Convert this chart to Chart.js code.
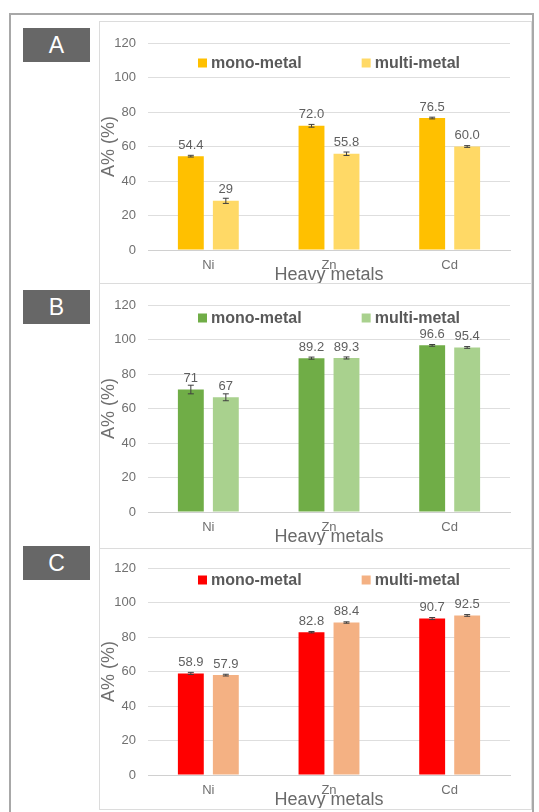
<!DOCTYPE html>
<html>
<head>
<meta charset="utf-8">
<script src="https://cdn.jsdelivr.net/npm/chart.js@4/dist/chart.umd.min.js"></script>
<style>
  html, body { margin: 0; padding: 0; background: #ffffff; width: 539px; height: 812px; overflow: hidden; }
  .frame { position: absolute; left: 9px; top: 13px; width: 525px; height: 820px; border: 2px solid #a8a8a8; box-sizing: border-box; }
  .box { position: absolute; left: 99px; width: 433px; border: 1px solid #dcdcdc; box-sizing: border-box; background: #fff; }
  .tag { position: absolute; left: 23px; width: 67px; height: 34px; background: #676767; color: #ffffff;
         font-family: "Liberation Sans", Arial, sans-serif; font-size: 23px; line-height: 34px; text-align: center; }
  canvas { position: absolute; }
</style>
</head>
<body>
<div class="frame"></div>
<div class="box" style="top:21px;height:263px;"></div>
<div class="box" style="top:283px;height:266px;"></div>
<div class="box" style="top:548px;height:262px;"></div>
<div class="tag" style="top:28px;">A</div>
<div class="tag" style="top:290px;">B</div>
<div class="tag" style="top:546px;">C</div>
<div style="position:absolute;left:97px;top:19px;width:434px;height:264px;"><canvas id="cA"></canvas></div>
<div style="position:absolute;left:97px;top:281px;width:434px;height:264px;"><canvas id="cB"></canvas></div>
<div style="position:absolute;left:97px;top:544px;width:434px;height:264px;"><canvas id="cC"></canvas></div>
<script>
// ---- data ----
const categories = ["Ni", "Zn", "Cd"];
const seriesNames = ["mono-metal", "multi-metal"];
const yTicks = [0, 20, 40, 60, 80, 100, 120];

const monoA = [54.4, 72.0, 76.5];
const multiA = [28.5, 55.8, 60.0];
const monoA_lbl = ["54.4", "72.0", "76.5"];
const multiA_lbl = ["29", "55.8", "60.0"];
const monoA_err = [0.5, 0.8, 0.5];
const multiA_err = [1.5, 1.0, 0.5];

const monoB = [71, 89.2, 96.6];
const multiB = [66.5, 89.3, 95.4];
const monoB_lbl = ["71", "89.2", "96.6"];
const multiB_lbl = ["67", "89.3", "95.4"];
const monoB_err = [2.5, 0.6, 0.5];
const multiB_err = [2.0, 0.6, 0.5];

const monoC = [58.9, 82.8, 90.7];
const multiC = [57.9, 88.4, 92.5];
const monoC_lbl = ["58.9", "82.8", "90.7"];
const multiC_lbl = ["57.9", "88.4", "92.5"];
const monoC_err = [0.6, 0.4, 0.6];
const multiC_err = [0.5, 0.4, 0.5];

const FONT = "'Liberation Sans', Arial, sans-serif";

const barExtras = {
  id: 'barExtras',
  afterDatasetsDraw(chart, args, opts) {
    const ctx = chart.ctx;
    const ys = chart.scales.y;
    ctx.save();
    chart.data.datasets.forEach((ds, di) => {
      const meta = chart.getDatasetMeta(di);
      meta.data.forEach((bar, i) => {
        const v = ds.data[i];
        const e = ds.errors[i];
        const yHi = ys.getPixelForValue(v + e);
        const yLo = ys.getPixelForValue(v - e);
        ctx.strokeStyle = '#3f3f3f';
        ctx.lineWidth = 1;
        ctx.beginPath();
        ctx.moveTo(bar.x, yHi); ctx.lineTo(bar.x, yLo);
        ctx.moveTo(bar.x - 3, yHi); ctx.lineTo(bar.x + 3, yHi);
        ctx.moveTo(bar.x - 3, yLo); ctx.lineTo(bar.x + 3, yLo);
        ctx.stroke();
        ctx.fillStyle = '#5f5f5f';
        ctx.font = '13px ' + FONT;
        ctx.textAlign = 'center';
        ctx.textBaseline = 'middle';
        ctx.fillText(ds.labelsText[i], bar.x, bar.y - 11);
      });
    });
    // legend inside plot area
    const ca = chart.chartArea;
    const ly = ca.top + opts.legendDy;
    ctx.font = 'bold 16px ' + FONT;
    const names = chart.data.datasets.map(d => d.label);
    const w = names.map(n => ctx.measureText(n).width);
    const mk = 9, gap = 4, sep = 60;
    const total = mk + gap + w[0] + sep + mk + gap + w[1];
    let x = (ca.left + ca.right) / 2 - total / 2;
    ctx.textAlign = 'left';
    ctx.textBaseline = 'middle';
    chart.data.datasets.forEach((ds, di) => {
      ctx.fillStyle = ds.backgroundColor;
      ctx.fillRect(x, ly - mk / 2, mk, mk);
      x += mk + gap;
      ctx.fillStyle = '#595959';
      ctx.fillText(names[di], x, ly + 1);
      x += w[di] + sep;
    });
    ctx.restore();
  }
};

function makeChart(id, mono, multi, monoLbl, multiLbl, monoErr, multiErr, c1, c2, legendDy) {
  new Chart(document.getElementById(id), {
    type: 'bar',
    data: {
      labels: categories,
      datasets: [
        { label: seriesNames[0], data: mono, labelsText: monoLbl, errors: monoErr, backgroundColor: c1,
          categoryPercentage: 0.58, barPercentage: 0.74 },
        { label: seriesNames[1], data: multi, labelsText: multiLbl, errors: multiErr, backgroundColor: c2,
          categoryPercentage: 0.58, barPercentage: 0.74 }
      ]
    },
    options: {
      responsive: true,
      maintainAspectRatio: false,
      animation: false,
      layout: { padding: { left: 0, right: 21, top: 24, bottom: 0 } },
      plugins: {
        legend: { display: false },
        tooltip: { enabled: false },
        barExtras: { legendDy: legendDy }
      },
      scales: {
        x: {
          grid: { display: false, drawTicks: false },
          border: { display: true, color: '#d0d0d0' },
          ticks: { padding: 8, color: '#707070', font: { family: FONT, size: 13 } },
          title: { display: true, text: 'Heavy metals', color: '#6a6a6a',
                   font: { family: FONT, size: 18, lineHeight: 1 }, padding: { top: 0, bottom: -1 } },
          afterFit(s) { s.height = 33; }
        },
        y: {
          min: 0, max: 120,
          afterBuildTicks(s) { s.ticks = yTicks.map(v => ({ value: v })); },
          grid: { color: '#dedede', drawTicks: false },
          border: { display: false },
          ticks: { padding: 12, color: '#707070', font: { family: FONT, size: 13 } },
          title: { display: true, text: 'A% (%)', color: '#707070',
                   font: { family: FONT, size: 18 }, padding: { top: 1, bottom: 0 } },
          afterFit(s) { s.width = 51; }
        }
      }
    },
    plugins: [barExtras]
  });
}

makeChart('cA', monoA, multiA, monoA_lbl, multiA_lbl, monoA_err, multiA_err, '#FFC000', '#FFD966', 20);
makeChart('cB', monoB, multiB, monoB_lbl, multiB_lbl, monoB_err, multiB_err, '#70AD47', '#A9D18E', 13);
makeChart('cC', monoC, multiC, monoC_lbl, multiC_lbl, monoC_err, multiC_err, '#FF0000', '#F4B183', 12);
</script>
</body>
</html>
